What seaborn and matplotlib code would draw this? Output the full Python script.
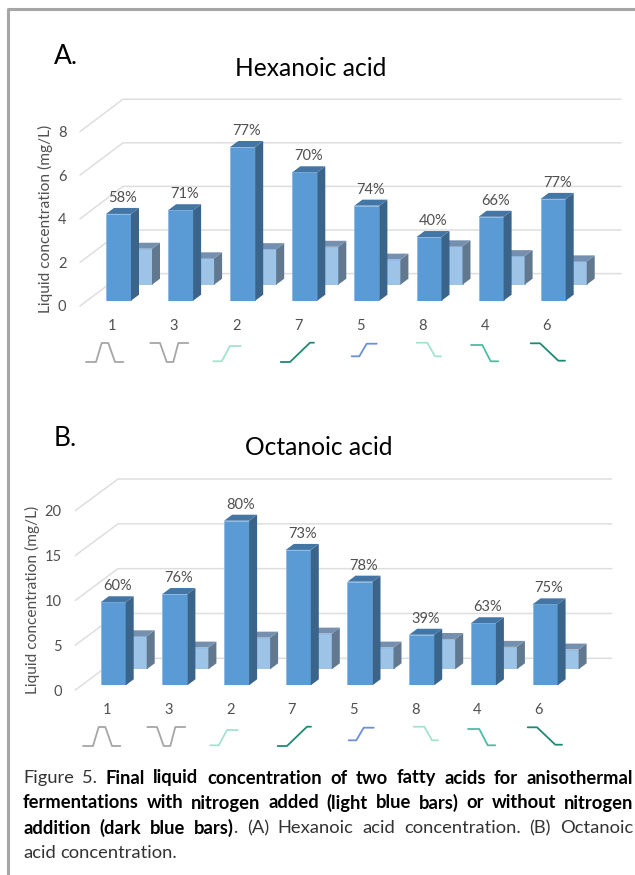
import matplotlib
matplotlib.use("Agg")
from matplotlib import pyplot as plt
from matplotlib.lines import Line2D
from matplotlib.patches import Polygon
from matplotlib.transforms import ScaledTranslation
import seaborn as sns

W, H = 635, 875

# data
runs = ["1", "3", "2", "7", "5", "8", "4", "6"]

hexanoic_dark = [3.98, 4.15, 7.05, 5.89, 4.36, 2.92, 3.85, 4.67]
hexanoic_light = [1.65, 1.21, 1.63, 1.74, 1.15, 1.76, 1.31, 1.07]
hexanoic_pct = ["58%", "71%", "77%", "70%", "74%", "40%", "66%", "77%"]
hexanoic_ticks = [0, 2, 4, 6, 8]

octanoic_dark = [9.26, 10.18, 18.36, 15.1, 11.56, 5.64, 6.92, 9.03]
octanoic_light = [3.68, 2.42, 3.53, 3.98, 2.42, 3.38, 2.5, 2.2]
octanoic_pct = ["60%", "76%", "80%", "73%", "78%", "39%", "63%", "75%"]
octanoic_ticks = [0, 5, 10, 15, 20]

# temperature profile sketches under the bars, in pixels
profile_x = [
    [86, 96, 101.7, 108.3, 115, 123.3],
    [150.3, 160, 166.7, 173.3, 178.3, 188.3],
    [213.3, 221.7, 230, 240.7],
    [280.7, 290, 310, 314],
    [351.7, 359.3, 366.7, 376.7],
    [416.7, 427.3, 435, 441],
    [471, 482.3, 490.7, 498.3],
    [530.7, 540, 558.3, 565],
]
profile_y = [
    [362, 362, 343, 343, 362, 362],
    [343, 343, 362, 362, 343, 343],
    [361.3, 361.3, 346, 346],
    [362, 362, 342.7, 342.7],
    [356.3, 356.3, 343.7, 343.7],
    [342.7, 342.7, 356.3, 356.3],
    [345, 345, 361.3, 361.3],
    [343.3, 343.3, 360.7, 360.7],
]
profile_colors = ["#a6a6a6", "#a6a6a6", "#a3e3cd", "#1f8a74",
                  "#6c8fd6", "#a3e3cd", "#4dbca6", "#1f8a74"]

caption = [
    [("Figure", 0), ("5.", 0), ("Final", 1), ("liquid", 1), ("concentration", 1), ("of", 1),
     ("two", 1), ("fatty", 1), ("acids", 1), ("for", 1), ("anisothermal", 1)],
    [("fermentations", 1), ("with", 1), ("nitrogen", 1), ("added", 1), ("(light", 1), ("blue", 1),
     ("bars)", 1), ("or", 1), ("without", 1), ("nitrogen", 1)],
    [("addition", 1), ("(dark", 1), ("blue", 1), ("bars)", 1), (".", 0), ("(A)", 0), ("Hexanoic", 0),
     ("acid", 0), ("concentration.", 0), ("(B)", 0), ("Octanoic", 0)],
    [("acid", 0), ("concentration.", 0)],
]

DARK = ("#5b9bd5", "#3a6489", "#4476a5")
LIGHT = ("#9dc3e6", "#62788f", "#7490ae")
TEXT = "#505050"
GRID = "#dedede"

sns.set_theme(style="white")
plt.rcParams["font.family"] = ["Lato", "DejaVu Sans"]
plt.rcParams["text.color"] = TEXT


def px_axes(fig, left, right, top, base, zorder):
    ax = fig.add_axes([left / W, 1 - base / H, (right - left) / W, (base - top) / H])
    ax.set_zorder(zorder)
    ax.patch.set_visible(False)
    return ax


def bar_row(fig, values, colors, x0, base, step, scale, ymax, zorder):
    # one row of fake 3D bars, side and top built from the seaborn patches
    ax = px_axes(fig, x0 - step / 2, x0 + step * 7.5, base - ymax * scale, base, zorder)
    sns.barplot(x=runs, y=values, color=colors[0], width=25 / step, saturation=1,
                edgecolor="#8fbbe6", linewidth=0.7, ax=ax)
    ax.set_xlim(-0.5, 7.5)
    ax.set_ylim(0, ymax)
    dx, dy = 8 / step, 6 / scale
    for p in ax.patches:
        a, b, h = p.get_x(), p.get_x() + p.get_width(), p.get_height()
        ax.add_patch(Polygon([(b, 0), (b + dx, dy), (b + dx, h + dy), (b, h)],
                             color=colors[1], lw=0, clip_on=False))
        ax.add_patch(Polygon([(a, h), (a + dx, h + dy), (b + dx, h + dy), (b, h)],
                             color=colors[2], lw=0, clip_on=False))
    sns.despine(ax=ax, left=True, bottom=True)
    ax.set_yticks([])
    ax.set_ylabel("")
    return ax


def panel(fig, dark, light, pct, ticks, p):
    ymax = ticks[-1] * 1.1
    # wall with gridlines and the value axis
    wall = px_axes(fig, p["wall_x"], p["wall_right"], p["wall_base"] - ymax * p["scale"],
                   p["wall_base"], 1)
    wall.set_xlim(p["wall_x"], p["wall_right"])
    wall.set_ylim(0, ymax)
    back = p["wall_dy"] / p["scale"]
    for v in ticks:
        wall.plot([p["wall_x"], p["wall_x"] + p["wall_dx"], p["wall_right"]],
                  [v, v + back, v + back], color=GRID, lw=1.1, clip_on=False)
    wall.set_xticks([])
    wall.set_yticks(ticks)
    wall.tick_params(axis="y", length=0, pad=9.8, labelsize=10.5, labelcolor=TEXT)
    wall.set_ylabel("Liquid concentration (mg/L)", fontsize=11.2, color=TEXT)
    wall.yaxis.set_label_coords(p["ylab_dx"] / (p["wall_right"] - p["wall_x"]),
                                (p["wall_base"] - p["ylab_y"]) / (ymax * p["scale"]))
    sns.despine(ax=wall, left=True, bottom=True)

    back_row = bar_row(fig, light, LIGHT, p["cx"] + 21, p["base"] - 16, p["step"], p["scale"], ymax, 2)
    back_row.set_xticks([])
    front = bar_row(fig, dark, DARK, p["cx"], p["base"], p["step"], p["scale"], ymax, 3)

    # percent labels above the dark bars
    for i, label in enumerate(pct):
        front.annotate(label, (i, dark[i]), xytext=(4 * 0.72, 16 * 0.72),
                       textcoords="offset points", ha="center", va="center",
                       fontsize=10.5, color=TEXT, annotation_clip=False)

    # category labels under the bars
    front.tick_params(axis="x", length=0, pad=13, labelsize=10.5, labelcolor=TEXT)
    shift = ScaledTranslation(-6.5 / 100, 0, fig.dpi_scale_trans)
    for lab in front.get_xticklabels():
        lab.set_transform(lab.get_transform() + shift)

    fig.text(p["title_x"] / W, 1 - p["title_y"] / H, p["title"], ha="center", va="center",
             fontsize=17.7, color="black")
    fig.text(54 / W, 1 - p["tag_y"] / H, p["tag"], ha="left", va="center",
             fontsize=19, color="black")

    # profile sketches
    for xs, ys, c in zip(profile_x, profile_y, profile_colors):
        fig.add_artist(Line2D([(x + p["icon_dx"]) / W for x in xs],
                              [1 - (y + p["icon_dy"]) / H for y in ys], color=c, lw=1.3))


def draw_caption(fig):
    left, right = 23, 633
    rend = fig.canvas.get_renderer()
    for n, line in enumerate(caption):
        y = 1 - (778 + n * 25) / H
        texts = [fig.text(0, y, w, fontsize=13.2, color="#333333" if not b else "black",
                          weight="bold" if b else "normal", va="center") for w, b in line]
        widths = [t.get_window_extent(rend).width for t in texts]
        # the full stop sticks to the closing bracket of the bold part
        gaps = [0 if w == "." else None for w, _ in line[1:]]
        if n < 3:
            free = right - left - sum(widths)
            gap = free / sum(1 for g in gaps if g is None)
        else:
            gap = 4.5
        x = left
        for i, t in enumerate(texts):
            t.set_x(x / W)
            next_gap = 0 if i + 1 < len(line) and line[i + 1][0] == "." else gap
            x += widths[i] + next_gap


fig = plt.figure(figsize=(W / 100, H / 100), dpi=100, facecolor="white")

# frame round the figure
fig.add_artist(Line2D([7.5 / W, 7.5 / W, 1], [0, 1 - 8.5 / H, 1 - 8.5 / H],
                      color="#a6a6a6", lw=2.2))

panel(fig, hexanoic_dark, hexanoic_light, hexanoic_pct, hexanoic_ticks, dict(
    cx=118.5, base=300.7, step=62.1, scale=21.8, wall_x=80, wall_right=621, wall_base=306,
    wall_dx=43, wall_dy=32.4, ylab_dx=-27, ylab_y=219, title="Hexanoic acid", title_x=311,
    title_y=68, tag="A.", tag_y=56, icon_dx=0, icon_dy=0))

panel(fig, octanoic_dark, octanoic_light, octanoic_pct, octanoic_ticks, dict(
    cx=113.2, base=685.3, step=61.7, scale=8.965, wall_x=75.3, wall_right=611.7, wall_base=690,
    wall_dx=42.7, wall_dy=31.7, ylab_dx=-35, ylab_y=600, title="Octanoic acid", title_x=319,
    title_y=447, tag="B.", tag_y=438, icon_dx=-3, icon_dy=384))

draw_caption(fig)

fig.savefig("out.png", dpi=100)
